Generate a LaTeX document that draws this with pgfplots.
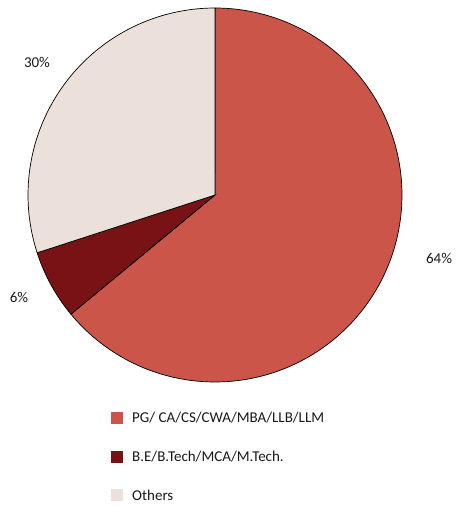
\documentclass[border=0pt]{standalone}
\usepackage{pgfplots}
\pgfplotsset{compat=1.18}
\usepackage{fontspec}
\setmainfont{Carlito}
\definecolor{pgc}{RGB}{203,85,72}
\definecolor{bec}{RGB}{120,18,20}
\definecolor{otc}{RGB}{236,224,218}
\definecolor{txt}{RGB}{25,25,25}
\tikzset{lbl/.style={font=\fontsize{15}{18}\selectfont, text=txt, inner sep=0pt}}
% shares in percent
\def\sharePG{64}
\def\shareBE{6}
\def\shareOT{30}
\pgfmathsetmacro{\aA}{90}
\pgfmathsetmacro{\aB}{90-3.6*\sharePG}
\pgfmathsetmacro{\aC}{\aB-3.6*\shareBE}
\pgfmathsetmacro{\aD}{\aC-3.6*\shareOT}
\begin{document}
\begin{tikzpicture}
\begin{axis}[
  x=1pt, y=1pt, scale only axis,
  xmin=0, xmax=459, ymin=0, ymax=506,
  hide axis, clip=false,
]
\addplot[draw=none] coordinates {(0,0) (459,506)};
\addplot[fill=pgc, draw=black, line width=0.7pt, domain=\aA:\aB, samples=150, variable=\t]
  ({215+187*cos(\t)},{311+187*sin(\t)}) -- (axis cs:215,311) -- cycle;
\addplot[fill=bec, draw=black, line width=0.7pt, domain=\aB:\aC, samples=30, variable=\t]
  ({215+187*cos(\t)},{311+187*sin(\t)}) -- (axis cs:215,311) -- cycle;
\addplot[fill=otc, draw=black, line width=0.7pt, domain=\aC:\aD, samples=80, variable=\t]
  ({215+187*cos(\t)},{311+187*sin(\t)}) -- (axis cs:215,311) -- cycle;
\node[lbl] at (axis cs:439,248) {64\%};
\node[lbl] at (axis cs:19,209) {6\%};
\node[lbl] at (axis cs:37,444) {30\%};
% legend
\fill[pgc] (axis cs:111,82) rectangle (axis cs:123,94);
\node[lbl, anchor=west] at (axis cs:132,88) {PG/ CA/CS/CWA/MBA/LLB/LLM};
\fill[bec] (axis cs:111,43) rectangle (axis cs:123,55);
\node[lbl, anchor=west] at (axis cs:132,49) {B.E/B.Tech/MCA/M.Tech.};
\fill[otc] (axis cs:111,5) rectangle (axis cs:123,17);
\node[lbl, anchor=west] at (axis cs:132,11) {Others};
\end{axis}
\end{tikzpicture}
\end{document}
